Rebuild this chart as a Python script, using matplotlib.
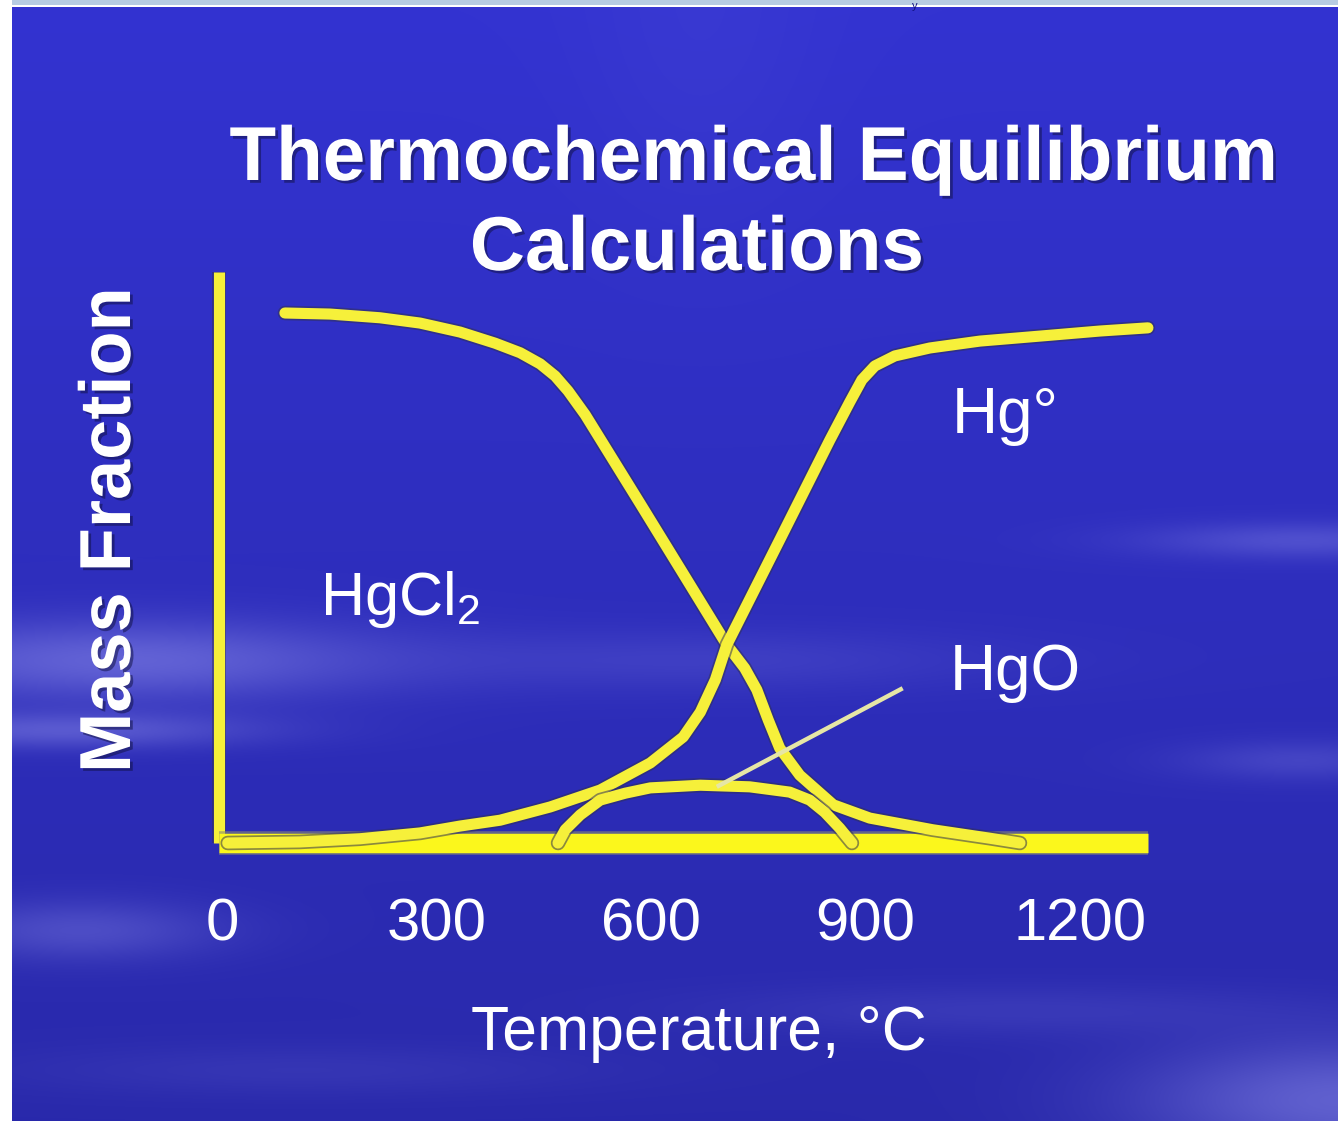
import numpy as np
import matplotlib
matplotlib.use("Agg")
import matplotlib.pyplot as plt
import matplotlib.patheffects as pe

# ---- data (temperature in degC, mass fraction) ----
hgcl2_t = [88, 151, 221, 277, 333, 382, 417, 445, 466, 484, 508, 585, 641, 706,
           731, 748, 764, 780, 808, 855, 906, 994, 1074, 1116]
hgcl2_y = [1.000, 0.998, 0.991, 0.981, 0.964, 0.943, 0.925, 0.904, 0.881, 0.853,
           0.808, 0.640, 0.517, 0.374, 0.330, 0.289, 0.232, 0.179, 0.128, 0.072,
           0.047, 0.025, 0.009, 0.0]

hg0_t = [8, 109, 193, 277, 333, 389, 459, 529, 599, 645, 669, 690, 706, 780, 850,
         878, 895, 913, 941, 990, 1060, 1158, 1228, 1295]
hg0_y = [0.0, 0.002, 0.008, 0.019, 0.032, 0.043, 0.068, 0.100, 0.151, 0.200, 0.247,
         0.308, 0.374, 0.572, 0.760, 0.832, 0.874, 0.900, 0.919, 0.934, 0.947,
         0.958, 0.966, 0.972]

hgo_t = [470, 480, 501, 529, 564, 599, 669, 738, 794, 822, 843, 864, 881]
hgo_y = [0.0, 0.025, 0.053, 0.081, 0.094, 0.104, 0.109, 0.106, 0.096, 0.081,
         0.058, 0.028, 0.0]

pointer_t = [692, 952]
pointer_y = [0.106, 0.292]

x_ticks = [0, 300, 600, 900, 1200]
x_ticklabels = ["0", "300", "600", "900", "1200"]

W, H = 1338, 1121
plt.rcParams["font.family"] = ["Liberation Sans", "DejaVu Sans"]
plt.rcParams["mathtext.default"] = "regular"

fig = plt.figure(figsize=(W / 100, H / 100), dpi=100)

# ---- slide background: blue with soft light streaks ----
yy, xx = np.mgrid[0:H, 0:W].astype(float)
base_top = np.array([0.20, 0.20, 0.82])
base_bot = np.array([0.16, 0.16, 0.67])
frac = (yy / H)[..., None]
img = base_top * (1 - frac) + base_bot * frac

def streak(cx, cy, sx, sy, amp):
    return amp * np.exp(-((xx - cx) / sx) ** 2 - ((yy - cy) / sy) ** 2)

light = (streak(120, 660, 260, 40, 0.55) + streak(60, 730, 200, 18, 0.45)
         + streak(700, 660, 300, 30, 0.18) + streak(80, 930, 140, 30, 0.35)
         + streak(1300, 540, 160, 18, 0.35) + streak(1300, 760, 120, 20, 0.25)
         + streak(1340, 1100, 200, 60, 0.55) + streak(1000, 1010, 300, 25, 0.15)
         + streak(300, 1070, 300, 25, 0.12) + streak(700, 30, 120, 200, 0.06))
light = np.clip(light, 0, 1)[..., None]
img = img * (1 - light) + np.array([0.55, 0.55, 0.92]) * light
img[0:5, :] = [0.72, 0.80, 0.89]
img[5:7, :] = 1.0
img[:, 0:12] = 1.0

bg = fig.add_axes([0, 0, 1, 1])
bg.imshow(img, extent=(0, W, H, 0), aspect="auto", interpolation="bilinear")
bg.set_xlim(0, W)
bg.set_ylim(H, 0)
bg.axis("off")

# ---- plot axes (px 222 -> 0 degC, 0.715 px/degC; py 843 -> 0, 530 px per unit) ----
x0, sx = 222.0, 0.715
y0, sy = 843.0, 530.0
xlim = (-100, 1370)
ylim = (-0.08, 1.21)
left = (x0 + xlim[0] * sx) / W
width = (xlim[1] - xlim[0]) * sx / W
bottom = 1 - (y0 - ylim[0] * sy) / H
height = (ylim[1] - ylim[0]) * sy / H
ax = fig.add_axes([left, bottom, width, height])
ax.set_xlim(*xlim)
ax.set_ylim(*ylim)
ax.patch.set_alpha(0)
for s in ax.spines.values():
    s.set_visible(False)

edge = [pe.Stroke(linewidth=10.5, foreground="#30305a", alpha=0.55), pe.Normal()]
yellow = "#f6f03a"

ax.plot([-4, -4], [0, 1.077], color=yellow, lw=8, solid_capstyle="butt",
        path_effects=[pe.Stroke(linewidth=10, foreground="#30305a", alpha=0.55), pe.Normal()])
ax.plot([-4, 1295], [0, 0], color="#fbf71c", lw=14, solid_capstyle="butt",
        path_effects=[pe.Stroke(linewidth=17, foreground="#8a8a70", alpha=0.6), pe.Normal()])

for t, y in [(hgcl2_t, hgcl2_y), (hg0_t, hg0_y), (hgo_t, hgo_y)]:
    ax.plot(t, y, color=yellow, lw=8, solid_capstyle="round",
            solid_joinstyle="round", path_effects=edge)

ax.plot(pointer_t, pointer_y, color="#e6e6a6", lw=3.2, solid_capstyle="butt")

ax.set_xticks(x_ticks)
ax.set_xticklabels(x_ticklabels, fontsize=43, color="white")
ax.set_yticks([])
ax.tick_params(axis="x", length=0, pad=9)

ax.text(137, 0.43, "HgCl$_2$", fontsize=44, color="white", ha="left", va="baseline")
ax.text(1021, 0.774, "Hg°", fontsize=46, color="white", ha="left", va="baseline")
ax.text(1018, 0.289, "HgO", fontsize=46, color="white", ha="left", va="baseline")

# ---- titles and axis labels ----
shadow = [pe.withSimplePatchShadow(offset=(2, -2), shadow_rgbFace="#101040", alpha=0.5)]
bg.text(754, 180, "Thermochemical Equilibrium", fontsize=55, fontweight="bold",
        color="white", ha="center", va="baseline", path_effects=shadow)
bg.text(697, 270, "Calculations", fontsize=55, fontweight="bold",
        color="white", ha="center", va="baseline", path_effects=shadow)
bg.text(111, 530, "Mass Fraction", fontsize=52, fontweight="bold", color="white",
        rotation=90, ha="center", va="center", path_effects=shadow)
bg.text(699, 1050, "Temperature, °C", fontsize=45, color="white",
        ha="center", va="baseline")

# small dark mark at the top edge (remnant of the slide title above)
bg.text(915, 1, "y", fontsize=8, color="#101080", ha="center", va="top")

fig.savefig("out.png", dpi=100)
